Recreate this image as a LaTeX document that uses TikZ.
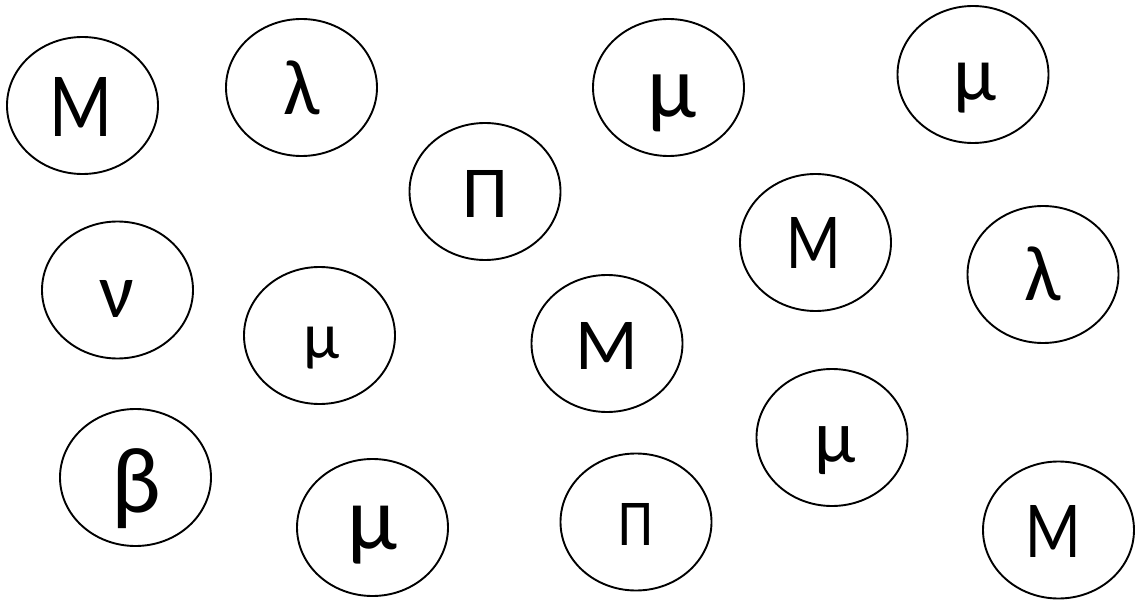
\documentclass[tikz,border=0pt]{standalone}
\usepackage{fontspec}
\usepackage{graphicx}
\setmainfont{Carlito}
\usetikzlibrary{shapes.geometric}
\tikzset{
  bubble/.style={draw=black, line width=1.9bp, ellipse, inner sep=0pt,
    minimum width=151bp, minimum height=137bp},
  glyph/.style={inner sep=0pt, anchor=center}
}
\newcommand{\gl}[2]{\resizebox*{!}{#1bp}{#2}}
\newcommand{\glx}[3]{\scalebox{#2}[1]{\resizebox*{!}{#1bp}{#3}}}
\begin{document}
\begin{tikzpicture}[x=1bp, y=-1bp]
\useasboundingbox (0,0) rectangle (1137,600);
% ellipses
\node[bubble] (e1) at (82.5,105.5) {};
\node[bubble] (e2) at (301.5,87.5) {};
\node[bubble] (e3) at (485,191.5) {};
\node[bubble] (e4) at (668.5,87.5) {};
\node[bubble] (e5) at (973,74.5) {};
\node[bubble] (e6) at (815.5,242.5) {};
\node[bubble] (e7) at (1043,274.5) {};
\node[bubble] (e8) at (117.5,290) {};
\node[bubble] (e9) at (319.5,335.5) {};
\node[bubble] (e10) at (607,343.5) {};
\node[bubble] (e11) at (135.5,477.5) {};
\node[bubble] (e12) at (372.5,527.5) {};
\node[bubble] (e13) at (636,522) {};
\node[bubble] (e14) at (832,437.5) {};
\node[bubble] (e15) at (1058.5,530) {};
% letters
\node[glyph] (t1) at (81,106.5) {\glx{59}{0.8}{M}};
\node[glyph] (t2) at (301.5,87.5) {\gl{54}{λ}};
\node[glyph] (t3) at (485.5,193.5) {\gl{47}{Π}};
\node[glyph] (t4) at (672,103.5) {\gl{57}{μ}};
\node[glyph] (t5) at (975,88) {\gl{50}{μ}};
\node[glyph] (t6) at (814,242.5) {\glx{51}{0.8}{M}};
\node[glyph] (t7) at (1043,274) {\gl{54}{λ}};
\node[glyph] (t8) at (117,298.5) {\gl{37}{ν}};
\node[glyph] (t9) at (321.5,348) {\gl{42}{μ}};
\node[glyph] (t10) at (606.5,345.5) {\gl{47}{M}};
\node[glyph] (t11) at (136.5,489) {\gl{80}{β}};
\node[glyph] (t12) at (372.5,535) {\gl{58}{μ}};
\node[glyph] (t13) at (636,524) {\glx{42}{0.85}{Π}};
\node[glyph] (t14) at (835,451) {\gl{48}{μ}};
\node[glyph] (t15) at (1053,531) {\glx{52}{0.8}{M}};
\end{tikzpicture}
\end{document}
